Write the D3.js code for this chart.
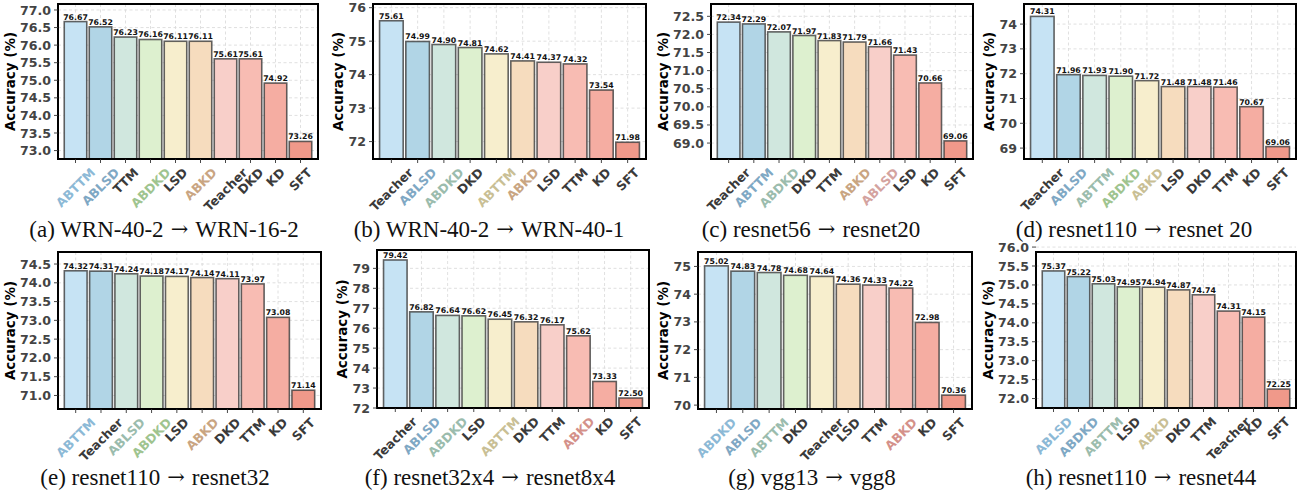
<!DOCTYPE html>
<html><head><meta charset="utf-8">
<script src="https://cdn.jsdelivr.net/npm/d3@7"></script>
<style>body{margin:0;background:#fff} svg{display:block}</style>
</head><body><svg id="c" width="1298" height="494"></svg>
<script>
// ---------- data ----------
const catsA = ['ABTTM','ABLSD','TTM','ABDKD','LSD','ABKD','Teacher','DKD','KD','SFT'];
const valsA = [76.67,76.52,76.23,76.16,76.11,76.11,75.61,75.61,74.92,73.26];
const ticksA = [73.0,73.5,74.0,74.5,75.0,75.5,76.0,76.5,77.0];

const catsB = ['Teacher','ABLSD','ABDKD','DKD','ABTTM','ABKD','LSD','TTM','KD','SFT'];
const valsB = [75.61,74.99,74.90,74.81,74.62,74.41,74.37,74.32,73.54,71.98];
const ticksB = [72,73,74,75,76];

const catsC = ['Teacher','ABTTM','ABDKD','DKD','TTM','ABKD','ABLSD','LSD','KD','SFT'];
const valsC = [72.34,72.29,72.07,71.97,71.83,71.79,71.66,71.43,70.66,69.06];
const ticksC = [69.0,69.5,70.0,70.5,71.0,71.5,72.0,72.5];

const catsD = ['Teacher','ABLSD','ABTTM','ABDKD','ABKD','LSD','DKD','TTM','KD','SFT'];
const valsD = [74.31,71.96,71.93,71.90,71.72,71.48,71.48,71.46,70.67,69.06];
const ticksD = [69,70,71,72,73,74];

const catsE = ['ABTTM','Teacher','ABLSD','ABDKD','LSD','ABKD','DKD','TTM','KD','SFT'];
const valsE = [74.32,74.31,74.24,74.18,74.17,74.14,74.11,73.97,73.08,71.14];
const ticksE = [71.0,71.5,72.0,72.5,73.0,73.5,74.0,74.5];

const catsF = ['Teacher','ABLSD','ABDKD','LSD','ABTTM','DKD','TTM','ABKD','KD','SFT'];
const valsF = [79.42,76.82,76.64,76.62,76.45,76.32,76.17,75.62,73.33,72.50];
const ticksF = [72,73,74,75,76,77,78,79];

const catsG = ['ABDKD','ABLSD','ABTTM','DKD','Teacher','LSD','TTM','ABKD','KD','SFT'];
const valsG = [75.02,74.83,74.78,74.68,74.64,74.36,74.33,74.22,72.98,70.36];
const ticksG = [70,71,72,73,74,75];

const catsH = ['ABLSD','ABDKD','ABTTM','LSD','ABKD','DKD','TTM','Teacher','KD','SFT'];
const valsH = [75.37,75.22,75.03,74.95,74.94,74.87,74.74,74.31,74.15,72.25];
const ticksH = [72.0,72.5,73.0,73.5,74.0,74.5,75.0,75.5,76.0];

const captionLeft = ['(a) WRN-40-2', '(b) WRN-40-2', '(c) resnet56', '(d) resnet110',
                     '(e) resnet110', '(f) resnet32x4', '(g) vgg13', '(h) resnet110'];
const captionRight = ['WRN-16-2', 'WRN-40-1', 'resnet20', 'resnet 20',
                      'resnet32', 'resnet8x4', 'vgg8', 'resnet44'];

// ---------- styles / layout ----------
const barColors = ['#c6e3f4','#b1d5e6','#d0e7de','#ddf0cf','#f7eecd','#f6dcbe','#f8cfc9','#f8bcb3','#f5ada2','#f0998a'];
const labelColors = ['#8cb9d6','#7fa8c4','#9bbcad','#9fc48f','#c9bf95','#c9a582','#d4a39f','#d4918a','#cf8a80','#c97a6c'];

const series = [
  [catsA,valsA,ticksA,1],[catsB,valsB,ticksB,0],[catsC,valsC,ticksC,1],[catsD,valsD,ticksD,0],
  [catsE,valsE,ticksE,1],[catsF,valsF,ticksF,0],[catsG,valsG,ticksG,0],[catsH,valsH,ticksH,1]
];
const frames = [
  {L:58,R:318,T:4,B:159,cx:164,cy:237},
  {L:373,R:646,T:4,B:159,cx:489,cy:237},
  {L:711,R:973,T:4,B:159,cx:811,cy:237},
  {L:1024,R:1296,T:4,B:159,cx:1134,cy:237},
  {L:58,R:321,T:252,B:409,cx:155,cy:485},
  {L:377,R:649,T:250,B:408,cx:490,cy:485},
  {L:698,R:972,T:252,B:409,cx:812,cy:485},
  {L:1036,R:1296,T:252,B:408,cx:1141,cy:485}
];

const svg = d3.select('#c');
const FONT = "'DejaVu Sans', sans-serif";
const SERIF = "'Liberation Serif', 'Times New Roman', serif";

series.forEach((s, pi) => {
  const [cats, vals, ticks, dec] = s;
  const f = frames[pi];
  const g = svg.append('g');
  const x = d3.scaleBand().domain(cats).range([f.L, f.R]).paddingInner(0.1).paddingOuter(0.25);
  const y = d3.scaleLinear().domain([d3.min(vals) - 0.5, d3.max(vals) + 0.5]).range([f.B, f.T]);
  const fmt = dec ? d3.format('.1f') : d3.format('d');

  // grid
  const grid = g.append('g').attr('stroke', '#d8d8d8').attr('stroke-width', 0.8).attr('stroke-dasharray', '3,2.5');
  ticks.forEach(t => grid.append('line').attr('x1', f.L).attr('x2', f.R).attr('y1', y(t)).attr('y2', y(t)));
  cats.forEach(c => { const cx = x(c) + x.bandwidth()/2;
    grid.append('line').attr('x1', cx).attr('x2', cx).attr('y1', f.T).attr('y2', f.B); });

  // bars
  g.append('g').selectAll('rect').data(cats).join('rect')
    .attr('x', c => x(c)).attr('width', x.bandwidth())
    .attr('y', (c, i) => y(vals[i])).attr('height', (c, i) => f.B - y(vals[i]))
    .attr('fill', (c, i) => barColors[i])
    .attr('stroke', '#3c3c3c').attr('stroke-opacity', 0.8).attr('stroke-width', 1.6);

  // value labels
  g.append('g').selectAll('text').data(cats).join('text')
    .attr('x', c => x(c) + x.bandwidth()/2).attr('y', (c, i) => y(vals[i]) - 2)
    .attr('text-anchor', 'middle').attr('font-family', FONT).attr('font-weight', 'bold')
    .attr('font-size', 7.8).attr('fill', '#111').text((c, i) => vals[i].toFixed(2));

  // frame
  g.append('rect').attr('x', f.L).attr('y', f.T).attr('width', f.R - f.L).attr('height', f.B - f.T)
    .attr('fill', 'none').attr('stroke', '#000').attr('stroke-width', 2);

  // y ticks
  let maxW = 0;
  ticks.forEach(t => {
    g.append('line').attr('x1', f.L - 4).attr('x2', f.L).attr('y1', y(t)).attr('y2', y(t))
      .attr('stroke', '#333').attr('stroke-width', 0.9);
    const tx = g.append('text').attr('x', f.L - 7).attr('y', y(t)).attr('dy', '0.36em')
      .attr('text-anchor', 'end').attr('font-family', FONT).attr('font-weight', 'bold')
      .attr('font-size', 12.6).attr('fill', '#444').text(fmt(t));
    maxW = Math.max(maxW, tx.node().getComputedTextLength());
  });
  // y label
  const ly = (f.T + f.B) / 2, lx = f.L - 7 - maxW - 5;
  g.append('text').attr('transform', `translate(${lx},${ly}) rotate(-90)`)
    .attr('text-anchor', 'middle').attr('font-family', FONT).attr('font-weight', 'bold')
    .attr('font-size', 13.5).attr('fill', '#000').text('Accuracy (%)');

  // x ticks + labels
  cats.forEach((c, idx) => {
    const cx = x(c) + x.bandwidth()/2;
    g.append('line').attr('x1', cx).attr('x2', cx).attr('y1', f.B).attr('y2', f.B + 4)
      .attr('stroke', '#333').attr('stroke-width', 0.9);
    const t = g.append('text').attr('text-anchor', 'middle').attr('dominant-baseline', 'central')
      .attr('font-family', FONT).attr('font-weight', 'bold').attr('font-size', 12.5)
      .attr('fill', c.startsWith('AB') ? labelColors[idx] : '#3a3a3a').text(c);
    const L = t.node().getComputedTextLength();
    const half = (L + 9) * Math.SQRT1_2 / 2;
    t.attr('transform', `translate(${cx},${f.B + 8 + half}) rotate(-45)`);
  });

  // caption
  const cap = svg.append('text').attr('x', f.cx).attr('y', f.cy).attr('text-anchor', 'middle')
    .attr('font-family', SERIF).attr('font-size', 23).attr('fill', '#111');
  cap.append('tspan').text(captionLeft[pi]);
  cap.append('tspan').attr('dx', 7).attr('font-family', "'DejaVu Serif', serif").attr('font-size', 21)
    .attr('dy', -1).text('\u2192');
  cap.append('tspan').attr('dx', 7).attr('dy', 1).text(captionRight[pi]);
});
</script></body></html>
